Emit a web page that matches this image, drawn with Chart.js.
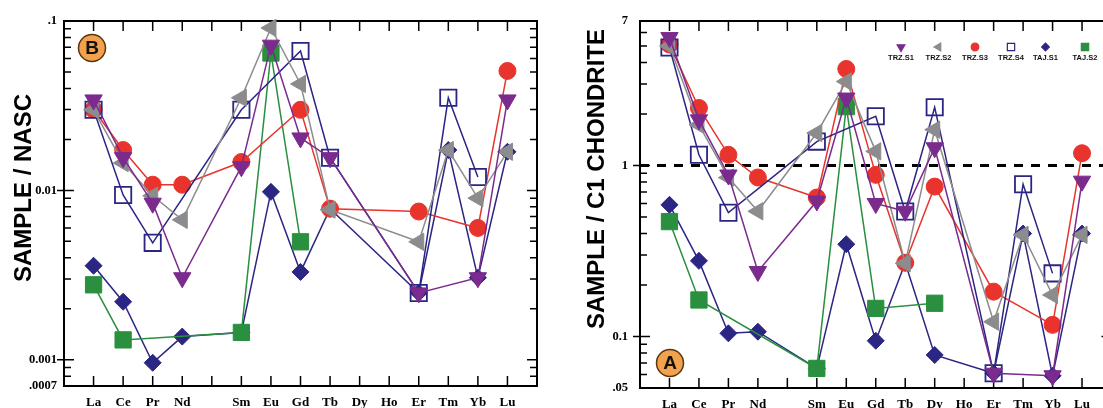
<!DOCTYPE html>
<html>
<head>
<meta charset="utf-8">
<script src="https://cdn.jsdelivr.net/npm/chart.js@4.4.1/dist/chart.umd.min.js"></script>
<style>
html, body { margin: 0; padding: 0; background: #fff; overflow: hidden; width: 1103px; height: 408px; }
.panel { position: absolute; top: 0; height: 408px; }
#boxB { left: 0; width: 545px; }
#boxA { left: 560px; width: 560px; }
</style>
</head>
<body>
<div class="panel" id="boxB"><canvas id="chartB"></canvas></div>
<div class="panel" id="boxA"><canvas id="chartA"></canvas></div>
<script>
// rare earth elements on the x axis ('' = Pm, not analysed)
const elements = ['La', 'Ce', 'Pr', 'Nd', '', 'Sm', 'Eu', 'Gd', 'Tb', 'Dy', 'Ho', 'Er', 'Tm', 'Yb', 'Lu']
const seriesNames = ['TRZ.S1', 'TRZ.S2', 'TRZ.S3', 'TRZ.S4', 'TAJ.S1', 'TAJ.S2']

// panel B : sample / NASC
const nascTRZS1 = [0.0342, 0.0156, 0.0084, 0.00305, null, 0.0138, 0.072, 0.0204, 0.0156, null, null, 0.00248, null, 0.00305, 0.0342]
const nascTRZS2 = [0.0299, 0.0145, 0.0093, 0.0067, null, 0.0352, 0.091, 0.0425, 0.0077, null, null, 0.00497, 0.0173, 0.009, 0.0169]
const nascTRZS3 = [0.030, 0.0173, 0.0108, 0.0108, null, 0.0147, null, 0.0299, 0.0078, null, null, 0.0075, null, 0.0060, 0.0507]
const nascTRZS4 = [0.0299, 0.0094, 0.0049, null, null, 0.0299, null, 0.0665, 0.0156, null, null, 0.00248, 0.0352, 0.012, null]
const nascTAJS1 = [0.00359, 0.0022, 0.00096, 0.00137, null, 0.00145, 0.0098, 0.0033, 0.0078, null, null, 0.00248, 0.0173, 0.00305, 0.0169]
const nascTAJS2 = [0.00277, 0.00131, null, null, null, 0.00145, 0.0647, 0.00497, null, null, null, null, null, null, null]
const nascTickValues = [0.1, 0.01, 0.001, 0.0007]
const nascTickLabels = ['.1', '0.01', '0.001', '.0007']

// panel A : sample / C1 chondrite
const chonTRZS1 = [5.6, 1.85, 0.88, 0.24, null, 0.62, 2.48, 0.60, 0.54, 1.27, null, 0.061, null, 0.059, 0.81]
const chonTRZS2 = [5.0, 1.73, 0.85, 0.54, null, 1.55, 3.10, 1.21, 0.268, 1.62, null, 0.122, 0.393, 0.175, 0.393]
const chonTRZS3 = [5.1, 2.17, 1.155, 0.851, null, 0.65, 3.67, 0.882, 0.27, 0.753, null, 0.183, null, 0.117, 1.18]
const chonTRZS4 = [4.9, 1.155, 0.53, null, null, 1.38, null, 1.94, 0.538, 2.19, null, 0.061, 0.778, 0.234, null]
const chonTAJS1 = [0.589, 0.277, 0.1044, 0.1067, null, 0.0651, 0.3465, 0.0945, 0.27, 0.078, null, 0.061, 0.40, 0.059, 0.40]
const chonTAJS2 = [0.47, 0.1636, null, null, null, 0.0651, 2.21, 0.146, null, 0.1565, null, null, null, null, null]
const chonTickValues = [7, 1, 0.1, 0.05]
const chonTickLabels = ['7', '1', '0.1', '.05']
const chonReference = 1

const seriesStyles = [
	{ color: '#7B2A8E', fill: '#7B2A8E', pointStyle: 'triangle', rotation: 180, radius: 10 },
	{ color: '#8C8C8E', fill: '#8C8C8E', pointStyle: 'triangle', rotation: -90, radius: 10 },
	{ color: '#E8342C', fill: '#E8342C', pointStyle: 'circle', rotation: 0, radius: 8.5 },
	{ color: '#2B2583', fill: 'rgba(0,0,0,0)', pointStyle: 'rect', rotation: 0, radius: 11.5 },
	{ color: '#2B2583', fill: '#2B2583', pointStyle: 'rectRot', rotation: 0, radius: 8.5 },
	{ color: '#2A8F3E', fill: '#2A8F3E', pointStyle: 'rect', rotation: 0, radius: 11.5 },
]
const drawOrder = [0, 1, 3, 2, 5, 4]

function logTicks(min, max) {
	const values = []
	for (let e = Math.floor(Math.log10(min)); e <= Math.ceil(Math.log10(max)); e++) {
		for (let k = 1; k < 10; k++) {
			const v = Number((k * Math.pow(10, e)).toPrecision(6))
			if (v >= min * 0.999 && v <= max * 1.001) values.push(v)
		}
	}
	return values
}

function findLabel(values, labels, v) {
	const i = values.findIndex((t) => Math.abs(t - v) / t < 1e-6)
	return i < 0 ? '' : labels[i]
}

const framePlugin = {
	id: 'frame',
	beforeDatasetsDraw(chart) {
		const { ctx, chartArea: a, scales } = chart
		ctx.save()
		ctx.strokeStyle = '#000'
		ctx.lineWidth = 1.5
		ctx.beginPath()
		scales.x.ticks.forEach((t) => {
			const x = scales.x.getPixelForValue(t.value)
			ctx.moveTo(x, a.top); ctx.lineTo(x, a.top + 10)
			ctx.moveTo(x, a.bottom); ctx.lineTo(x, a.bottom - 10)
		})
		scales.y.ticks.forEach((t) => {
			const y = scales.y.getPixelForValue(t.value)
			const major = t.label !== ''
			const len = major ? 10 : 7
			ctx.moveTo(a.left, y); ctx.lineTo(a.left + len, y)
			ctx.moveTo(a.right, y); ctx.lineTo(a.right - len, y)
			if (major && y > a.top + 2 && y < a.bottom - 2) {
				ctx.moveTo(a.left - 7, y); ctx.lineTo(a.left, y)
			}
		})
		ctx.stroke()
		ctx.lineWidth = 2
		ctx.strokeRect(a.left, a.top, a.right - a.left, a.bottom - a.top)
		ctx.restore()
	},
	afterDraw(chart, args, opts) {
		const { ctx, chartArea: a } = chart
		ctx.save()
		// axis title
		ctx.translate(a.left + opts.titleDX, a.top + opts.titleDY)
		ctx.rotate(-Math.PI / 2)
		ctx.fillStyle = '#000'
		ctx.font = 'bold 24px "Liberation Sans", Arial, sans-serif'
		ctx.textAlign = 'center'
		ctx.textBaseline = 'middle'
		ctx.fillText(opts.title, 0, 0)
		ctx.restore()
		// panel badge
		ctx.save()
		const bx = a.left + opts.badgeDX
		const by = opts.badgeDY > 0 ? a.top + opts.badgeDY : a.bottom + opts.badgeDY
		ctx.beginPath()
		ctx.arc(bx, by, 13.5, 0, Math.PI * 2)
		ctx.fillStyle = '#F2A14C'
		ctx.fill()
		ctx.lineWidth = 1.5
		ctx.strokeStyle = '#5A3612'
		ctx.stroke()
		ctx.fillStyle = '#111'
		ctx.font = 'bold 19px "Liberation Sans", Arial, sans-serif'
		ctx.textAlign = 'center'
		ctx.textBaseline = 'middle'
		ctx.fillText(opts.badge, bx, by + 1)
		ctx.restore()
		// legend
		if (opts.legend) {
			const offsets = [261, 298.5, 335, 371, 405.5, 445]
			ctx.save()
			seriesNames.forEach((name, i) => {
				const s = seriesStyles[i]
				const x = a.left + offsets[i]
				ctx.fillStyle = s.fill
				ctx.strokeStyle = s.color
				ctx.lineWidth = 1.2
				Chart.helpers.drawPoint(ctx, { pointStyle: s.pointStyle, rotation: s.rotation, radius: s.radius * 0.45, borderWidth: 1.2 }, x, a.top + 26)
				ctx.fillStyle = '#111'
				ctx.font = 'bold 7.5px "Liberation Sans", Arial, sans-serif'
				ctx.textAlign = 'center'
				ctx.textBaseline = 'middle'
				ctx.fillText(name, x, a.top + 37)
			})
			ctx.restore()
		}
	},
}

function makeDatasets(values) {
	return drawOrder.map((i) => {
		const s = seriesStyles[i]
		const data = values[i].map((v, k) => (v == null ? null : { x: k + 1, y: v })).filter(Boolean)
		return {
			label: seriesNames[i],
			data,
			borderColor: s.color,
			borderWidth: 1.5,
			pointStyle: s.pointStyle,
			rotation: s.rotation,
			pointRadius: s.radius,
			pointBackgroundColor: s.fill,
			pointBorderColor: s.color,
			pointBorderWidth: s.fill === 'rgba(0,0,0,0)' ? 1.8 : 1,
			tension: 0,
			clip: false,
		}
	})
}

function buildPanel(canvasID, cfg) {
	const ctx = document.getElementById(canvasID).getContext('2d')
	const datasets = makeDatasets(cfg.values)
	if (cfg.reference != null) {
		datasets.push({
			label: 'reference',
			data: [{ x: 0, y: cfg.reference }, { x: 16, y: cfg.reference }],
			borderColor: '#000',
			borderWidth: 3,
			borderDash: [9, 8],
			pointRadius: 0,
			clip: false,
		})
	}
	new Chart(ctx, {
		type: 'line',
		data: { datasets },
		plugins: [framePlugin],
		options: {
			responsive: true,
			maintainAspectRatio: false,
			animation: false,
			layout: { autoPadding: false, padding: { top: 21, right: cfg.padRight, bottom: 0, left: 0 } },
			plugins: {
				legend: { display: false },
				tooltip: { enabled: false },
				frame: cfg.frame,
			},
			scales: {
				x: {
					type: 'linear',
					min: 0,
					max: 16,
					afterBuildTicks: (s) => { s.ticks = elements.map((e, i) => ({ value: i + 1 })) },
					ticks: {
						autoSkip: false,
						maxRotation: 0,
						padding: 9,
						color: '#000',
						font: { family: '"Liberation Serif", "Times New Roman", serif', size: 13, weight: 'bold' },
						callback: (v) => elements[v - 1] || '',
					},
					grid: { display: false, drawTicks: false },
					border: { display: false },
					afterFit: (s) => { s.height = cfg.xHeight },
				},
				y: {
					type: 'logarithmic',
					min: cfg.min,
					max: cfg.max,
					afterBuildTicks: (s) => { s.ticks = logTicks(cfg.min, cfg.max).map((v) => ({ value: v })) },
					ticks: {
						autoSkip: false,
						padding: cfg.tickPad,
						color: '#000',
						font: { family: '"Liberation Serif", "Times New Roman", serif', size: 12.5, weight: 'bold' },
						callback: (v) => findLabel(cfg.tickValues, cfg.tickLabels, v),
					},
					grid: { display: false, drawTicks: false },
					border: { display: false },
					afterFit: (s) => { s.width = cfg.yWidth },
				},
			},
		},
	})
}

buildPanel('chartB', {
	values: [nascTRZS1, nascTRZS2, nascTRZS3, nascTRZS4, nascTAJS1, nascTAJS2],
	min: 0.0007,
	max: 0.1,
	tickValues: nascTickValues,
	tickLabels: nascTickLabels,
	yWidth: 64,
	xHeight: 22,
	padRight: 8,
	tickPad: 7,
	frame: { title: 'SAMPLE / NASC', titleDX: -40, titleDY: 167, badge: 'B', badgeDX: 28, badgeDY: 27, legend: false },
})

buildPanel('chartA', {
	values: [chonTRZS1, chonTRZS2, chonTRZS3, chonTRZS4, chonTAJS1, chonTAJS2],
	min: 0.05,
	max: 7,
	reference: chonReference,
	tickValues: chonTickValues,
	tickLabels: chonTickLabels,
	yWidth: 80,
	xHeight: 20,
	padRight: 8.5,
	tickPad: 12,
	frame: { title: 'SAMPLE / C1 CHONDRITE', titleDX: -43, titleDY: 158, badge: 'A', badgeDX: 30, badgeDY: -25, legend: true },
})
</script>
</body>
</html>
